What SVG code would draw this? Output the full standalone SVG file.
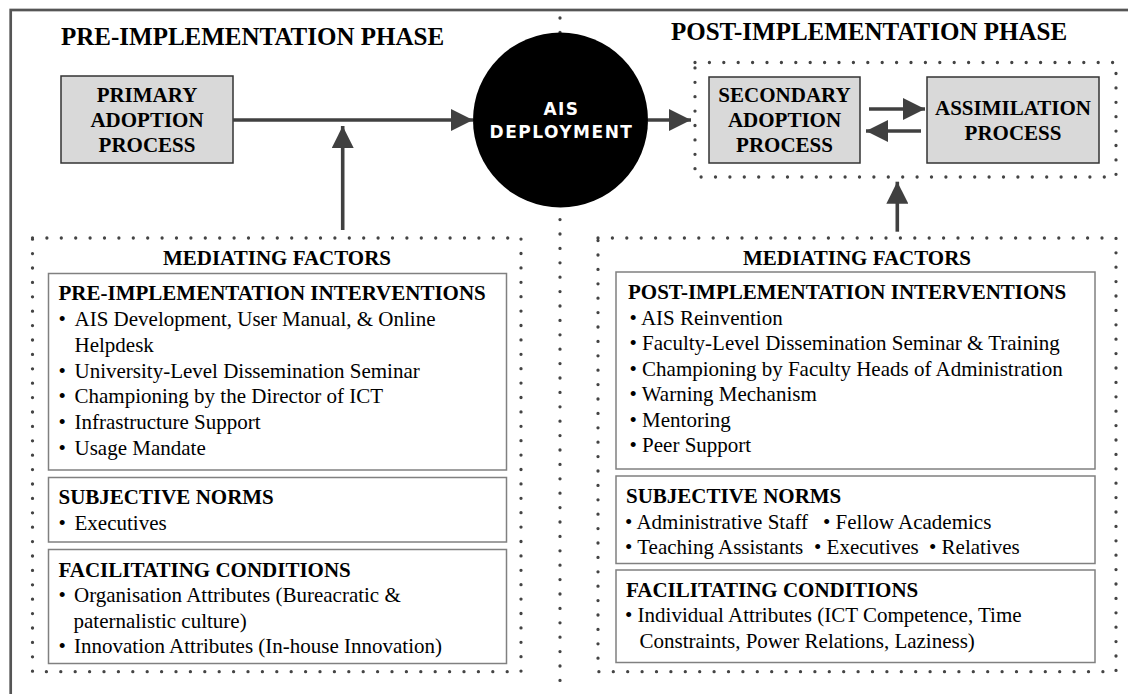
<svg xmlns="http://www.w3.org/2000/svg" width="1128" height="694" viewBox="0 0 1128 694">
<defs>
<marker id="ah" viewBox="0 0 10 10" refX="10" refY="5" markerUnits="userSpaceOnUse" markerWidth="22" markerHeight="22" orient="auto">
<path d="M0,0 L10,5 L0,10 z" fill="#404040"/>
</marker>
<style>
.title{font-family:"Liberation Serif","Times New Roman",serif;font-weight:bold;font-size:25px;fill:#000}
.hb{font-family:"Liberation Serif","Times New Roman",serif;font-weight:bold;font-size:21px;fill:#000}
.t{font-family:"Liberation Serif","Times New Roman",serif;font-size:21px;fill:#000}
.mid{text-anchor:middle}
.proc{fill:#d9d9d9;stroke:#333;stroke-width:1.5}
.inner{fill:none;stroke:#808080;stroke-width:1.5}
.dots{fill:none;stroke:#444;stroke-width:3.3;stroke-linecap:round;stroke-dasharray:0 14.4}
.conn{stroke:#404040;stroke-width:3.6;fill:none;marker-end:url(#ah)}
.circ{font-family:"DejaVu Sans","Liberation Sans",Arial,sans-serif;font-weight:bold;font-size:17px;fill:#fff;letter-spacing:1.5px;text-anchor:middle}
</style>
</defs>
<rect x="0" y="0" width="1128" height="694" fill="#fff"/>
<rect x="10.7" y="10" width="1200" height="800" fill="none" stroke="#555" stroke-width="2.7"/>

<g id="divider">
<path class="dots" d="M560,18 L560,694"/>
</g>

<text class="title" x="61" y="45">PRE-IMPLEMENTATION PHASE</text>
<text class="title" x="671" y="40">POST-IMPLEMENTATION PHASE</text>

<g id="post-process-group">
<rect class="dots" x="695" y="62.5" width="421" height="114.5"/>
</g>

<g id="primary-adoption">
<rect class="proc" x="61" y="76" width="172" height="87"/>
<text class="hb mid" x="147" y="102">PRIMARY</text>
<text class="hb mid" x="147" y="127">ADOPTION</text>
<text class="hb mid" x="147" y="152">PROCESS</text>
</g>

<g id="secondary-adoption">
<rect class="proc" x="709" y="77" width="151" height="86"/>
<text class="hb mid" x="784.5" y="102">SECONDARY</text>
<text class="hb mid" x="784.5" y="127">ADOPTION</text>
<text class="hb mid" x="784.5" y="152">PROCESS</text>
</g>

<g id="assimilation">
<rect class="proc" x="927" y="77" width="172" height="86"/>
<text class="hb mid" x="1013" y="114.5">ASSIMILATION</text>
<text class="hb mid" x="1013" y="139.5">PROCESS</text>
</g>

<g id="ais-deployment">
<circle cx="560.5" cy="120" r="87.5" fill="#000"/>
<text class="circ" x="561.5" y="115">AIS</text>
<text class="circ" x="561.5" y="137.5">DEPLOYMENT</text>
</g>

<g id="connectors">
<line class="conn" x1="233" y1="120" x2="473" y2="120"/>
<line class="conn" x1="342.7" y1="230" x2="342.7" y2="126"/>
<line class="conn" x1="648" y1="120" x2="691" y2="120"/>
<line class="conn" x1="869" y1="109" x2="925" y2="109"/>
<line class="conn" x1="921" y1="131" x2="866" y2="131"/>
<line class="conn" x1="897.3" y1="231.7" x2="897.3" y2="181.7"/>
</g>

<g id="pre-mediating">
<rect class="dots" x="32.5" y="238" width="488.5" height="433.7"/>
<text class="hb mid" x="277" y="265">MEDIATING FACTORS</text>
<g id="pre-interventions">
<rect class="inner" x="48.5" y="273.5" width="458" height="196.5"/>
<text class="hb" x="58.5" y="300">PRE-IMPLEMENTATION INTERVENTIONS</text>
<text class="t" x="58.5" y="326">•</text><text class="t" x="74.5" y="326">AIS Development, User Manual, &amp; Online</text>
<text class="t" x="74.5" y="352">Helpdesk</text>
<text class="t" x="58.5" y="377.5">•</text><text class="t" x="74.5" y="377.5">University-Level Dissemination Seminar</text>
<text class="t" x="58.5" y="403">•</text><text class="t" x="74.5" y="403">Championing by the Director of ICT</text>
<text class="t" x="58.5" y="429">•</text><text class="t" x="74.5" y="429">Infrastructure Support</text>
<text class="t" x="58.5" y="455">•</text><text class="t" x="74.5" y="455">Usage Mandate</text>
</g>
<g id="pre-subjective-norms">
<rect class="inner" x="48.5" y="477.5" width="458" height="64.5"/>
<text class="hb" x="58.5" y="503.5">SUBJECTIVE NORMS</text>
<text class="t" x="58.5" y="529.5">•</text><text class="t" x="74.5" y="529.5">Executives</text>
</g>
<g id="pre-facilitating">
<rect class="inner" x="48.5" y="549.5" width="458" height="114"/>
<text class="hb" x="58.5" y="576.5">FACILITATING CONDITIONS</text>
<text class="t" x="58.5" y="602">•</text><text class="t" x="74" y="602">Organisation Attributes (Bureacratic &amp;</text>
<text class="t" x="73.5" y="627.5">paternalistic culture)</text>
<text class="t" x="58.5" y="653">•</text><text class="t" x="74" y="653">Innovation Attributes (In-house Innovation)</text>
</g>
</g>

<g id="post-mediating">
<rect class="dots" x="598" y="238" width="518" height="433.7"/>
<text class="hb mid" x="857" y="265">MEDIATING FACTORS</text>
<g id="post-interventions">
<rect class="inner" x="616" y="272" width="479" height="197"/>
<text class="hb" x="628" y="298.5">POST-IMPLEMENTATION INTERVENTIONS</text>
<text class="t" x="629.5" y="324.5">• AIS Reinvention</text>
<text class="t" x="629.5" y="350">• Faculty-Level Dissemination Seminar &amp; Training</text>
<text class="t" x="629.5" y="375.5">• Championing by Faculty Heads of Administration</text>
<text class="t" x="629.5" y="401">• Warning Mechanism</text>
<text class="t" x="629.5" y="426.5">• Mentoring</text>
<text class="t" x="629.5" y="452">• Peer Support</text>
</g>
<g id="post-subjective-norms">
<rect class="inner" x="616" y="476" width="479" height="87.5"/>
<text class="hb" x="626" y="503">SUBJECTIVE NORMS</text>
<text class="t" x="625" y="528.5">• Administrative Staff</text>
<text class="t" x="823" y="528.5">• Fellow Academics</text>
<text class="t" x="625" y="554">• Teaching Assistants</text>
<text class="t" x="814" y="554">• Executives</text>
<text class="t" x="929" y="554">• Relatives</text>
</g>
<g id="post-facilitating">
<rect class="inner" x="616" y="570" width="479" height="92.5"/>
<text class="hb" x="626" y="596.5">FACILITATING CONDITIONS</text>
<text class="t" x="625" y="622">• Individual Attributes (ICT Competence, Time</text>
<text class="t" x="639.5" y="648">Constraints, Power Relations, Laziness)</text>
</g>
</g>
</svg>
